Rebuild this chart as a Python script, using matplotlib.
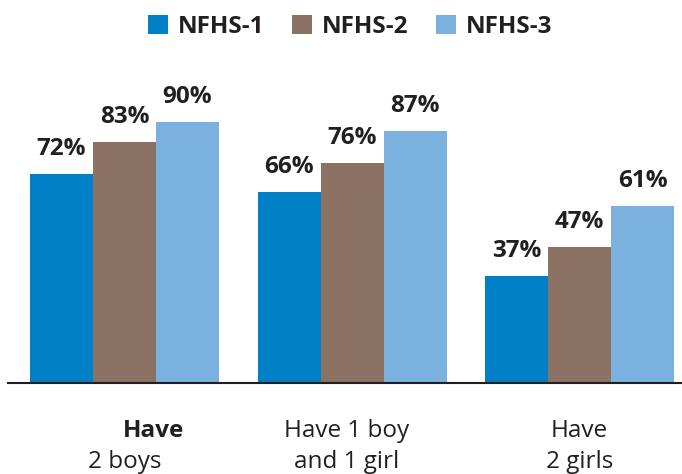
import matplotlib
matplotlib.use("Agg")
import matplotlib.pyplot as plt
from matplotlib.patches import Patch
import numpy as np

plt.rcParams['font.family'] = ['Open Sans', 'DejaVu Sans']

categories = ["Have 2 boys", "Have 1 boy and 1 girl", "Have 2 girls"]
series = ["NFHS-1", "NFHS-2", "NFHS-3"]
nfhs1 = [72, 66, 37]
nfhs2 = [83, 76, 47]
nfhs3 = [90, 87, 61]
colors = ["#0080C6", "#8B7262", "#7AB1DE"]

fig = plt.figure(figsize=(6.82, 4.74), dpi=100)
ax = fig.add_axes([8/682, 1-383/474, 1-8/682, 290/474])

x = np.arange(len(categories))
w = 0.277
for i, (vals, col) in enumerate(zip([nfhs1, nfhs2, nfhs3], colors)):
    xs = x + (i - 1) * w
    ax.bar(xs, vals, width=w, color=col, edgecolor='none', zorder=2)
    for xi, v in zip(xs, vals):
        ax.annotate(f"{v}%", xy=(xi, v), xytext=(0, 13), textcoords='offset pixels',
                    ha='center', va='bottom', fontsize=17.5, fontweight='bold', color='#231F20')

ax.set_xlim(-0.512, 2.45)
ax.set_ylim(0, 100)
for s in ['top', 'right', 'left']:
    ax.spines[s].set_visible(False)
ax.spines['bottom'].set_color('#231F20')
ax.spines['bottom'].set_linewidth(1.5)
ax.set_xticks([])
ax.set_yticks([])

# category labels (two lines each)
lab_lines = [("Have", "2 boys", True, 29), ("Have 1 boy", "and 1 girl", False, -5), ("Have", "2 girls", False, 0)]
for xi, (l1, l2, bold1, dx) in zip(x, lab_lines):
    ax.annotate(l1, xy=(xi, 0), xycoords=('data', 'axes fraction'), xytext=(dx, -48),
                textcoords='offset pixels', ha='center', va='center', fontsize=17.5,
                fontweight='bold' if bold1 else 'normal', color='#231F20')
    ax.annotate(l2, xy=(xi, 0), xycoords=('data', 'axes fraction'), xytext=(-5 if xi == 1 else 0, -79),
                textcoords='offset pixels', ha='center', va='center', fontsize=17.5, color='#231F20')

handles = [Patch(facecolor=c, edgecolor='none') for c in colors]
leg = fig.legend(handles, series, loc='center', bbox_to_anchor=(350/682, 1-27/474), ncol=3,
                 frameon=False, prop={'weight': 'bold', 'size': 17.5}, handlelength=0.82,
                 handleheight=0.82, handletextpad=0.4, columnspacing=1.15)
for t in leg.get_texts():
    t.set_color('#231F20')

fig.savefig("out.png", dpi=100)
